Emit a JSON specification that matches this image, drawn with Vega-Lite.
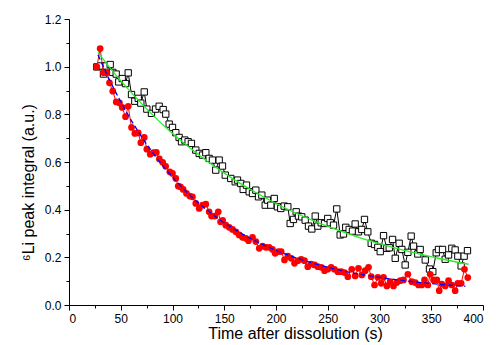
{
  "$schema": "https://vega.github.io/schema/vega-lite/v6.json",
  "width": 414,
  "height": 286,
  "autosize": {"type": "none"},
  "padding": {"left": 69, "top": 19, "right": 13, "bottom": 40},
  "background": "white",
  "config": {
    "view": {"stroke": null},
    "font": "Liberation Sans",
    "axis": {"grid": false, "domainColor": "#000", "tickColor": "#000", "labelColor": "#000", "titleColor": "#000", "labelFont": "Liberation Sans", "titleFont": "Liberation Sans", "titleFontWeight": "normal", "labelFontSize": 12, "titleFontSize": 16}
  },
  "datasets": {
    "black": [
      {"t":26.9,"v":0.999},{"t":30.7,"v":1.003},{"t":33.3,"v":0.969},{"t":35.9,"v":1.003},{"t":39.8,"v":1.009},{"t":42.3,"v":0.976},{"t":45.6,"v":0.969},{"t":48.1,"v":0.936},{"t":51.4,"v":0.95},{"t":54.6,"v":0.929},{"t":57.2,"v":0.974},{"t":60.4,"v":0.883},{"t":63.6,"v":0.855},{"t":66.9,"v":0.867},{"t":69.4,"v":0.847},{"t":72.7,"v":0.894},{"t":75.2,"v":0.822},{"t":79.7,"v":0.804},{"t":83.6,"v":0.822},{"t":87.1,"v":0.834},
      {"t":91.0,"v":0.82},{"t":93.5,"v":0.801},{"t":96.8,"v":0.759},{"t":100.0,"v":0.745},{"t":103.2,"v":0.723},{"t":106.4,"v":0.703},{"t":108.7,"v":0.685},{"t":111.9,"v":0.692},{"t":115.1,"v":0.685},{"t":118.3,"v":0.678},{"t":122.5,"v":0.65},{"t":125.8,"v":0.636},{"t":129.0,"v":0.629},{"t":132.2,"v":0.639},{"t":135.4,"v":0.615},{"t":138.6,"v":0.608},{"t":141.8,"v":0.566},{"t":145.1,"v":0.608},{"t":148.3,"v":0.583},
      {"t":151.0,"v":0.545},{"t":156.3,"v":0.531},{"t":160.6,"v":0.517},{"t":162.8,"v":0.524},{"t":166.0,"v":0.51},{"t":168.3,"v":0.485},{"t":171.5,"v":0.503},{"t":174.1,"v":0.475},{"t":177.3,"v":0.468},{"t":180.5,"v":0.482},{"t":183.1,"v":0.454},{"t":186.3,"v":0.461},{"t":189.6,"v":0.419},{"t":191.8,"v":0.44},{"t":195.0,"v":0.419},{"t":198.3,"v":0.447},{"t":201.4,"v":0.412},{"t":204.6,"v":0.405},{"t":207.9,"v":0.415},
      {"t":211.4,"v":0.412},{"t":213.7,"v":0.342},{"t":216.9,"v":0.359},{"t":219.5,"v":0.391},{"t":221.7,"v":0.373},{"t":224.9,"v":0.37},{"t":228.2,"v":0.356},{"t":231.4,"v":0.331},{"t":234.6,"v":0.319},{"t":237.9,"v":0.373},{"t":240.4,"v":0.331},{"t":243.7,"v":0.345},{"t":246.9,"v":0.342},{"t":250.0,"v":0.363},{"t":252.4,"v":0.345},{"t":255.6,"v":0.335},{"t":258.7,"v":0.403},{"t":262.0,"v":0.294},{"t":265.2,"v":0.298},{"t":267.4,"v":0.326},{"t":270.7,"v":0.317},{"t":273.9,"v":0.31},{"t":276.5,"v":0.34},{"t":279.7,"v":0.307},{"t":282.9,"v":0.317},{"t":285.5,"v":0.359},{"t":288.7,"v":0.307},{"t":292.0,"v":0.259},{"t":295.2,"v":0.254},{"t":298.4,"v":0.242},{"t":300.7,"v":0.224},{"t":303.9,"v":0.291},{"t":307.1,"v":0.238},{"t":309.4,"v":0.24},{"t":312.6,"v":0.275},{"t":315.2,"v":0.196},{"t":319.0,"v":0.259},{"t":321.6,"v":0.233},{"t":324.8,"v":0.168},{"t":327.4,"v":0.221},{"t":330.6,"v":0.289},{"t":332.9,"v":0.247},{"t":337.0,"v":0.214},{"t":339.3,"v":0.233},{"t":344.2,"v":0.189},{"t":348.3,"v":0.151},{"t":351.5,"v":0.14},{"t":354.8,"v":0.219},{"t":357.0,"v":0.233},{"t":360.9,"v":0.233},{"t":363.5,"v":0.192},{"t":366.7,"v":0.21},{"t":369.9,"v":0.238},{"t":373.1,"v":0.231},{"t":375.7,"v":0.205},{"t":378.9,"v":0.164},{"t":381.8,"v":0.205},{"t":385.0,"v":0.228}
    ],
    "red": [
      {"t":26.9,"v":0.999},{"t":30.1,"v":1.076},{"t":33.3,"v":0.974},{"t":36.5,"v":0.974},{"t":39.1,"v":0.932},{"t":42.3,"v":0.897},{"t":45.6,"v":0.852},{"t":48.8,"v":0.848},{"t":51.4,"v":0.829},{"t":54.6,"v":0.79},{"t":57.2,"v":0.834},{"t":60.4,"v":0.745},{"t":63.6,"v":0.72},{"t":66.9,"v":0.722},{"t":69.4,"v":0.681},{"t":72.7,"v":0.703},{"t":75.2,"v":0.654},{"t":78.5,"v":0.633},{"t":81.6,"v":0.639},{"t":84.4,"v":0.64},{"t":87.3,"v":0.613},{"t":90.5,"v":0.599},{"t":93.4,"v":0.582},{"t":97.4,"v":0.559},{"t":100.0,"v":0.552},{"t":103.2,"v":0.531},{"t":105.5,"v":0.499},{"t":107.7,"v":0.496},{"t":110.3,"v":0.485},{"t":113.5,"v":0.468},{"t":116.7,"v":0.457},{"t":119.3,"v":0.454},{"t":122.5,"v":0.426},{"t":125.8,"v":0.405},{"t":129.0,"v":0.419},{"t":132.2,"v":0.423},{"t":135.4,"v":0.391},{"t":137.7,"v":0.373},{"t":140.9,"v":0.373},{"t":144.2,"v":0.391},{"t":146.4,"v":0.349},{"t":148.5,"v":0.355},{"t":151.5,"v":0.335},{"t":154.8,"v":0.326},{"t":158.0,"v":0.317},{"t":161.2,"v":0.307},{"t":164.4,"v":0.294},{"t":167.6,"v":0.284},{"t":170.8,"v":0.28},{"t":173.4,"v":0.27},{"t":177.3,"v":0.284},{"t":180.5,"v":0.266},{"t":183.8,"v":0.238},{"t":187.0,"v":0.247},{"t":190.2,"v":0.242},{"t":193.4,"v":0.242},{"t":196.6,"v":0.233},{"t":199.2,"v":0.217},{"t":202.4,"v":0.224},{"t":205.0,"v":0.224},{"t":208.2,"v":0.189},{"t":211.4,"v":0.205},{"t":214.7,"v":0.196},{"t":217.9,"v":0.175},{"t":221.1,"v":0.186},{"t":224.3,"v":0.192},{"t":227.5,"v":0.186},{"t":230.7,"v":0.161},{"t":234.0,"v":0.172},{"t":237.2,"v":0.168},{"t":240.4,"v":0.161},{"t":243.7,"v":0.158},{"t":246.9,"v":0.144},{"t":250.0,"v":0.15},{"t":253.3,"v":0.158},{"t":256.5,"v":0.15},{"t":259.7,"v":0.14},{"t":263.0,"v":0.14},{"t":266.2,"v":0.136},{"t":269.4,"v":0.119},{"t":273.2,"v":0.15},{"t":276.5,"v":0.122},{"t":279.7,"v":0.154},{"t":282.9,"v":0.126},{"t":286.2,"v":0.144},{"t":289.4,"v":0.158},{"t":292.0,"v":0.119},{"t":295.2,"v":0.084},{"t":298.4,"v":0.116},{"t":301.6,"v":0.091},{"t":303.9,"v":0.116},{"t":307.1,"v":0.08},{"t":310.3,"v":0.098},{"t":313.5,"v":0.08},{"t":316.7,"v":0.094},{"t":320.0,"v":0.102},{"t":323.2,"v":0.105},{"t":327.4,"v":0.129},{"t":331.2,"v":0.098},{"t":334.5,"v":0.094},{"t":337.7,"v":0.084},{"t":340.9,"v":0.084},{"t":343.5,"v":0.105},{"t":346.7,"v":0.084},{"t":349.0,"v":0.129},{"t":352.2,"v":0.105},{"t":355.4,"v":0.105},{"t":357.7,"v":0.06},{"t":360.2,"v":0.088},{"t":363.5,"v":0.08},{"t":366.7,"v":0.102},{"t":369.9,"v":0.084},{"t":373.1,"v":0.06},{"t":375.7,"v":0.091},{"t":378.9,"v":0.091},{"t":382.1,"v":0.15},{"t":385.3,"v":0.115}
    ],
    "green": [
      {"t":28,"v":1.06},{"t":40,"v":0.993},{"t":60,"v":0.892},{"t":80,"v":0.801},{"t":100,"v":0.72},{"t":120,"v":0.648},{"t":140,"v":0.583},{"t":160,"v":0.525},{"t":180,"v":0.473},{"t":200,"v":0.426},{"t":220,"v":0.384},{"t":240,"v":0.347},{"t":260,"v":0.314},{"t":280,"v":0.284},{"t":300,"v":0.257},{"t":320,"v":0.233},{"t":340,"v":0.212},{"t":360,"v":0.193},{"t":386,"v":0.171}
    ],
    "blue": [
      {"t":28,"v":1.05},{"t":40,"v":0.937},{"t":60,"v":0.776},{"t":80,"v":0.644},{"t":100,"v":0.537},{"t":120,"v":0.448},{"t":140,"v":0.376},{"t":160,"v":0.317},{"t":180,"v":0.269},{"t":200,"v":0.229},{"t":220,"v":0.197},{"t":240,"v":0.17},{"t":260,"v":0.148},{"t":280,"v":0.13},{"t":300,"v":0.116},{"t":320,"v":0.104},{"t":340,"v":0.094},{"t":360,"v":0.086},{"t":383,"v":0.079}
    ]
  },
  "resolve": {"axis": {"x": "independent", "y": "independent"}},
  "layer": [
    {
      "data": {"name": "black"},
      "mark": {"type": "line", "color": "#000", "strokeWidth": 1},
      "encoding": {
        "x": {"field": "t", "type": "quantitative", "scale": {"domain": [0, 400], "nice": false},
              "axis": {"orient": "bottom", "values": [25, 75, 125, 175, 225, 275, 325, 375], "labels": false, "tickSize": 3, "domain": false, "title": null}},
        "y": {"field": "v", "type": "quantitative", "scale": {"domain": [0, 1.2], "nice": false},
              "axis": {"orient": "left", "values": [0.1, 0.3, 0.5, 0.7, 0.9, 1.1], "labels": false, "tickSize": 3, "domain": false, "title": null}}
      }
    },
    {
      "data": {"name": "black"},
      "mark": {"type": "point", "shape": "square", "filled": true, "fill": "white", "stroke": "#000", "strokeWidth": 1, "size": 40, "opacity": 1},
      "encoding": {
        "x": {"field": "t", "type": "quantitative",
              "axis": {"orient": "bottom", "values": [0, 50, 100, 150, 200, 250, 300, 350, 400], "tickSize": 5, "labelPadding": 3, "title": "Time after dissolution (s)", "titleX": 226, "titlePadding": 1}},
        "y": {"field": "v", "type": "quantitative",
              "axis": {"orient": "left", "values": [0, 0.2, 0.4, 0.6, 0.8, 1.0, 1.2], "format": ".1f", "tickSize": 5, "labelPadding": 3, "title": "⁶Li peak integral (a.u.)", "titleY": 163, "titlePadding": 8}}
      }
    },
    {
      "data": {"name": "red"},
      "mark": {"type": "line", "color": "#ff0000", "strokeWidth": 1},
      "encoding": {
        "x": {"field": "t", "type": "quantitative", "axis": null},
        "y": {"field": "v", "type": "quantitative", "axis": null}
      }
    },
    {
      "data": {"name": "red"},
      "mark": {"type": "point", "shape": "circle", "filled": true, "color": "#ff0000", "size": 45, "opacity": 1},
      "encoding": {
        "x": {"field": "t", "type": "quantitative", "axis": null},
        "y": {"field": "v", "type": "quantitative", "axis": null}
      }
    },
    {
      "data": {"name": "green"},
      "mark": {"type": "line", "color": "#22ee22", "strokeWidth": 1.3, "interpolate": "monotone"},
      "encoding": {
        "x": {"field": "t", "type": "quantitative", "axis": null},
        "y": {"field": "v", "type": "quantitative", "axis": null}
      }
    },
    {
      "data": {"name": "blue"},
      "mark": {"type": "line", "color": "#0000ff", "strokeWidth": 1.3, "strokeDash": [5, 3], "interpolate": "monotone"},
      "encoding": {
        "x": {"field": "t", "type": "quantitative", "axis": null},
        "y": {"field": "v", "type": "quantitative", "axis": null}
      }
    }
  ]
}
